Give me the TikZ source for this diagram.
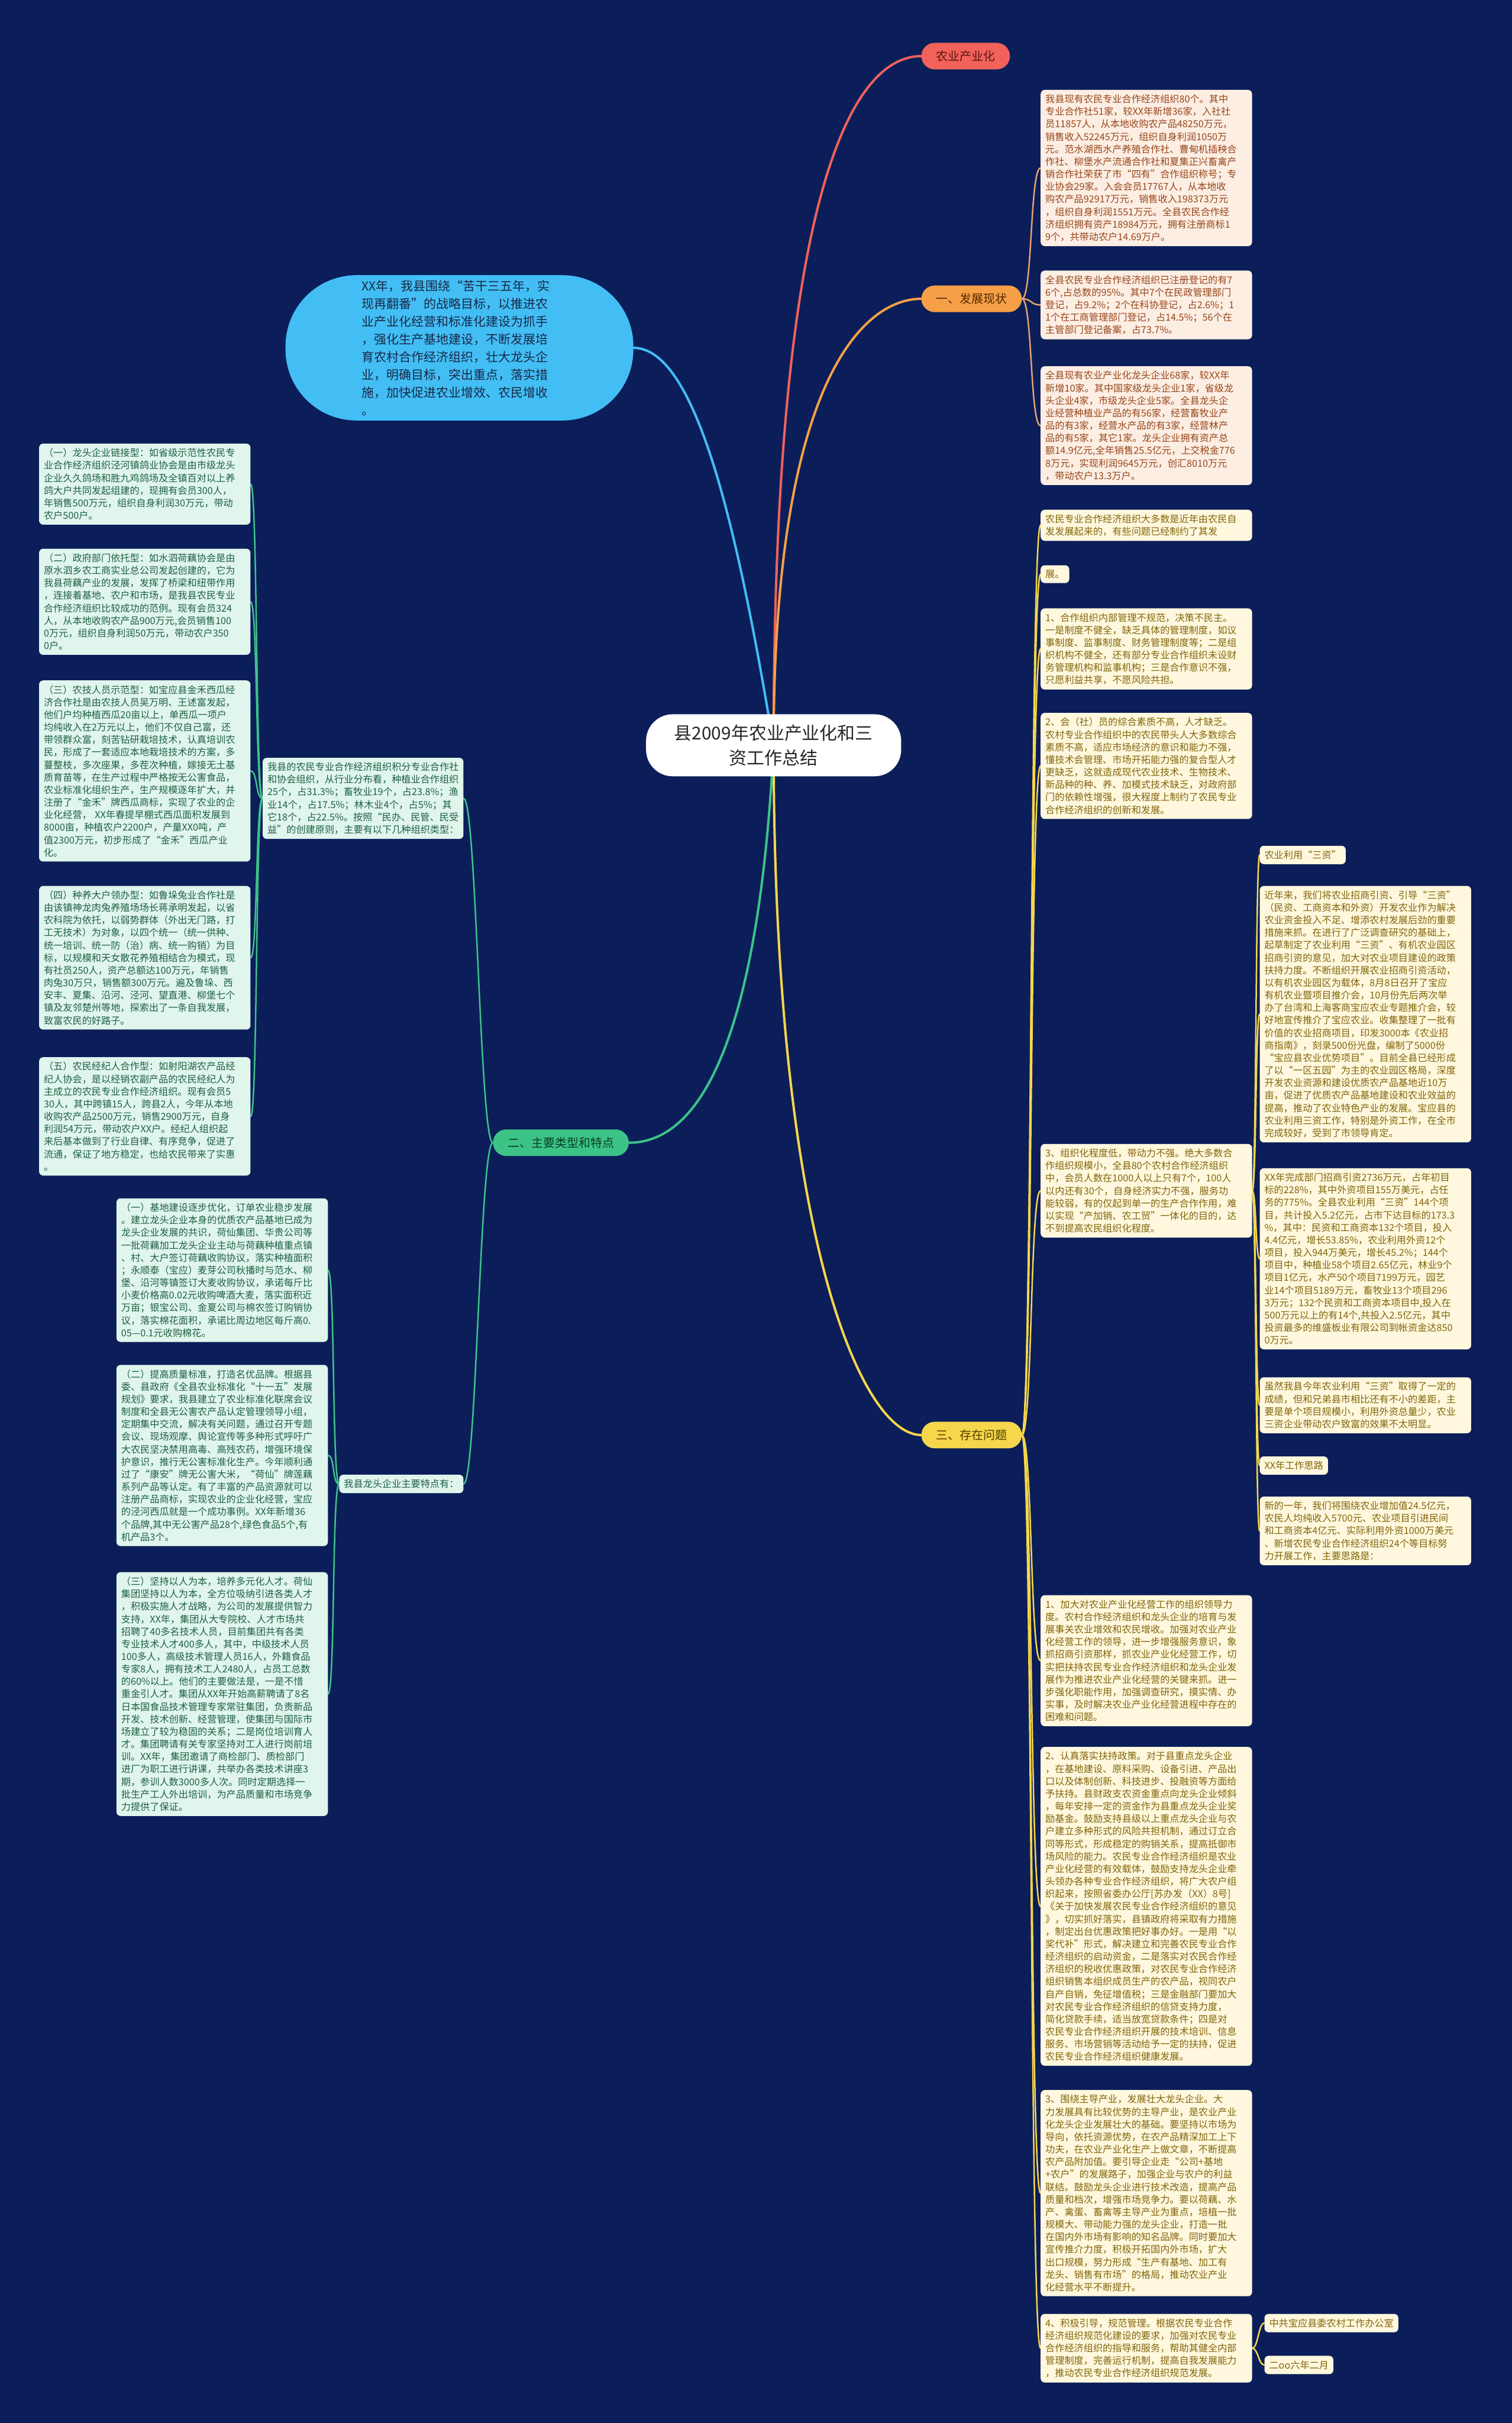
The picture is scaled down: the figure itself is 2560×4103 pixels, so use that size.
\documentclass[tikz,border=0pt]{standalone}
\usepackage{fontspec}
\setmainfont{Noto Sans CJK SC}
\XeTeXlinebreaklocale "zh"
\XeTeXlinebreakskip=0pt plus 1pt
\definecolor{bgc}{RGB}{11,30,90}
\definecolor{peachf}{RGB}{253,238,228}
\definecolor{peacht}{RGB}{150,70,25}
\definecolor{yelf}{RGB}{255,248,222}
\definecolor{yelt}{RGB}{130,100,10}
\definecolor{mintf}{RGB}{224,245,236}
\definecolor{mintt}{RGB}{30,95,70}
\definecolor{redc}{RGB}{240,98,90}
\definecolor{orc}{RGB}{245,160,70}
\definecolor{yelc}{RGB}{246,214,74}
\definecolor{grc}{RGB}{60,196,135}
\definecolor{bluc}{RGB}{66,190,245}
\definecolor{tanc}{RGB}{232,160,112}
\pgfdeclarelayer{edges}
\pgfsetlayers{edges,main}
\begin{document}
\begin{tikzpicture}[x=1pt,y=-1pt,
  box/.style={font=\fontsize{16.2}{21.2}\selectfont, align=left, text width=342, inner xsep=8, inner ysep=8, rounded corners=7, anchor=north west},
  onebox/.style={font=\fontsize{16.2}{21.2}\selectfont, inner xsep=8, inner ysep=8, rounded corners=7, anchor=north west},
  peach/.style={box, fill=peachf, text=peacht},
  yel/.style={box, fill=yelf, text=yelt},
  yelone/.style={onebox, fill=yelf, text=yelt},
  mint/.style={box, fill=mintf, text=mintt},
  mintone/.style={onebox, fill=mintf, text=mintt},
  pill/.style={font=\fontsize{20}{24}\selectfont, minimum height=45, inner xsep=25, rounded corners=22.5, anchor=west},
  mainln/.style={line width=4, line cap=round},
  subln/.style={line width=2.5, line cap=round},
]
\useasboundingbox (0,0) rectangle (2560,4103);
\begin{pgfonlayer}{edges}
\fill[bgc] (0,0) rectangle (2560,4103);
\end{pgfonlayer}

% root
\node[fill=white, text=black!85, rounded corners=45, minimum width=432, minimum height=105, align=center, font=\fontsize{30}{42}\selectfont] (root) at (1310,1262) {县2009年农业产业化和三\\资工作总结};

% branches
\node[pill, fill=redc, text={rgb,255:red,90;green,20;blue,15}] (b1) at (1560,95) {农业产业化};
\node[pill, fill=orc, text={rgb,255:red,80;green,40;blue,0}] (b2) at (1560,506) {一、发展现状};
\node[pill, fill=yelc, text={rgb,255:red,80;green,60;blue,0}] (b3) at (1560,2430) {三、存在问题};
\node[pill, fill=grc, text={rgb,255:red,10;green,60;blue,40}, anchor=east] (b4) at (1065,1935) {二、主要类型和特点};
\node[fill=bluc, text={rgb,255:red,25;green,40;blue,70}, rounded corners=120, minimum width=589, minimum height=246, text width=330, align=left, font=\fontsize{21}{30}\selectfont] (b5) at (778,589) {XX年，我县围绕“苦干三五年，实\\现再翻番”的战略目标，以推进农\\业产业化经营和标准化建设为抓手\\，强化生产基地建设，不断发展培\\育农村合作经济组织，壮大龙头企\\业，明确目标，突出重点，落实措\\施，加快促进农业增效、农民增收\\。};

% 一、发展现状 children
\node[peach] (a1) at (1762,152) {我县现有农民专业合作经济组织80个。其中\\专业合作社51家，较XX年新增36家，入社社\\员11857人，从本地收购农产品48250万元，\\销售收入52245万元，组织自身利润1050万\\元。范水湖西水产养殖合作社、曹甸机插秧合\\作社、柳堡水产流通合作社和夏集正兴畜禽产\\销合作社荣获了市“四有”合作组织称号；专\\业协会29家。入会会员17767人，从本地收\\购农产品92917万元，销售收入198373万元\\，组织自身利润1551万元。全县农民合作经\\济组织拥有资产18984万元，拥有注册商标1\\9个，共带动农户14.69万户。};
\node[peach] (a2) at (1762,458) {全县农民专业合作经济组织已注册登记的有7\\6个,占总数的95\%。其中7个在民政管理部门\\登记，占9.2\%；2个在科协登记，占2.6\%；1\\1个在工商管理部门登记，占14.5\%；56个在\\主管部门登记备案，占73.7\%。};
\node[peach] (a3) at (1762,620) {全县现有农业产业化龙头企业68家，较XX年\\新增10家。其中国家级龙头企业1家，省级龙\\头企业4家，市级龙头企业5家。全县龙头企\\业经营种植业产品的有56家，经营畜牧业产\\品的有3家，经营水产品的有3家，经营林产\\品的有5家，其它1家。龙头企业拥有资产总\\额14.9亿元,全年销售25.5亿元，上交税金776\\8万元，实现利润9645万元，创汇8010万元\\，带动农户13.3万户。};

% 三、存在问题 children
\node[yel] (c1) at (1762,863) {农民专业合作经济组织大多数是近年由农民自\\发发展起来的，有些问题已经制约了其发};
\node[yelone] (c2) at (1762,957) {展。};
\node[yel] (c3) at (1762,1030) {1、合作组织内部管理不规范，决策不民主。\\一是制度不健全，缺乏具体的管理制度，如议\\事制度、监事制度、财务管理制度等；二是组\\织机构不健全，还有部分专业合作组织未设财\\务管理机构和监事机构；三是合作意识不强，\\只愿利益共享，不愿风险共担。};
\node[yel] (c4) at (1762,1207) {2、会（社）员的综合素质不高，人才缺乏。\\农村专业合作组织中的农民带头人大多数综合\\素质不高，适应市场经济的意识和能力不强，\\懂技术会管理、市场开拓能力强的复合型人才\\更缺乏，这就造成现代农业技术、生物技术、\\新品种的种、养、加模式技术缺乏，对政府部\\门的依赖性增强，很大程度上制约了农民专业\\合作经济组织的创新和发展。};
\node[yel] (c5) at (1762,1937) {3、组织化程度低，带动力不强。绝大多数合\\作组织规模小，全县80个农村合作经济组织\\中，会员人数在1000人以上只有7个，100人\\以内还有30个，自身经济实力不强，服务功\\能较弱，有的仅起到单一的生产合作作用，难\\以实现“产加销、农工贸”一体化的目的，达\\不到提高农民组织化程度。};
\node[yel] (c6) at (1762,2701) {1、加大对农业产业化经营工作的组织领导力\\度。农村合作经济组织和龙头企业的培育与发\\展事关农业增效和农民增收。加强对农业产业\\化经营工作的领导，进一步增强服务意识，象\\抓招商引资那样，抓农业产业化经营工作，切\\实把扶持农民专业合作经济组织和龙头企业发\\展作为推进农业产业化经营的关键来抓。进一\\步强化职能作用，加强调查研究，摸实情、办\\实事，及时解决农业产业化经营进程中存在的\\困难和问题。};
\node[yel] (c7) at (1762,2958) {2、认真落实扶持政策。对于县重点龙头企业\\，在基地建设、原料采购、设备引进、产品出\\口以及体制创新、科技进步、投融资等方面给\\予扶持。县财政支农资金重点向龙头企业倾斜\\，每年安排一定的资金作为县重点龙头企业奖\\励基金。鼓励支持县级以上重点龙头企业与农\\户建立多种形式的风险共担机制，通过订立合\\同等形式，形成稳定的购销关系，提高抵御市\\场风险的能力。农民专业合作经济组织是农业\\产业化经营的有效载体，鼓励支持龙头企业牵\\头领办各种专业合作经济组织，将广大农户组\\织起来，按照省委办公厅[苏办发（XX）8号]\\《关于加快发展农民专业合作经济组织的意见\\》，切实抓好落实，县镇政府将采取有力措施\\，制定出台优惠政策把好事办好。一是用“以\\奖代补”形式，解决建立和完善农民专业合作\\经济组织的启动资金，二是落实对农民合作经\\济组织的税收优惠政策，对农民专业合作经济\\组织销售本组织成员生产的农产品，视同农户\\自产自销，免征增值税；三是金融部门要加大\\对农民专业合作经济组织的信贷支持力度，\\简化贷款手续，适当放宽贷款条件；四是对\\农民专业合作经济组织开展的技术培训、信息\\服务、市场营销等活动给予一定的扶持，促进\\农民专业合作经济组织健康发展。};
\node[yel] (c8) at (1762,3539) {3、围绕主导产业，发展壮大龙头企业。大\\力发展具有比较优势的主导产业，是农业产业\\化龙头企业发展壮大的基础。要坚持以市场为\\导向，依托资源优势，在农产品精深加工上下\\功夫，在农业产业化生产上做文章，不断提高\\农产品附加值。要引导企业走“公司+基地\\+农户”的发展路子，加强企业与农户的利益\\联结。鼓励龙头企业进行技术改造，提高产品\\质量和档次，增强市场竞争力。要以荷藕、水\\产、禽蛋、畜禽等主导产业为重点，培植一批\\规模大、带动能力强的龙头企业，打造一批\\在国内外市场有影响的知名品牌。同时要加大\\宣传推介力度，积极开拓国内外市场，扩大\\出口规模，努力形成“生产有基地、加工有\\龙头、销售有市场”的格局，推动农业产业\\化经营水平不断提升。};
\node[yel] (c9) at (1762,3918) {4、积极引导，规范管理。根据农民专业合作\\经济组织规范化建设的要求，加强对农民专业\\合作经济组织的指导和服务，帮助其健全内部\\管理制度，完善运行机制，提高自我发展能力\\，推动农民专业合作经济组织规范发展。};

% right column (children of c5)
\node[yelone] (r1) at (2133,1432) {农业利用“三资”};
\node[yel] (r2) at (2133,1500) {近年来，我们将农业招商引资、引导“三资”\\（民资、工商资本和外资）开发农业作为解决\\农业资金投入不足、增添农村发展后劲的重要\\措施来抓。在进行了广泛调查研究的基础上，\\起草制定了农业利用“三资”、有机农业园区\\招商引资的意见，加大对农业项目建设的政策\\扶持力度。不断组织开展农业招商引资活动，\\以有机农业园区为载体，8月8日召开了宝应\\有机农业暨项目推介会，10月份先后两次举\\办了台湾和上海客商宝应农业专题推介会，较\\好地宣传推介了宝应农业。收集整理了一批有\\价值的农业招商项目，印发3000本《农业招\\商指南》，刻录500份光盘，编制了5000份\\“宝应县农业优势项目”。目前全县已经形成\\了以“一区五园”为主的农业园区格局，深度\\开发农业资源和建设优质农产品基地近10万\\亩，促进了优质农产品基地建设和农业效益的\\提高，推动了农业特色产业的发展。宝应县的\\农业利用三资工作，特别是外资工作，在全市\\完成较好，受到了市领导肯定。};
\node[yel] (r3) at (2133,1978) {XX年完成部门招商引资2736万元，占年初目\\标的228\%，其中外资项目155万美元，占任\\务的775\%。全县农业利用“三资”144个项\\目，共计投入5.2亿元，占市下达目标的173.3\\\%，其中：民资和工商资本132个项目，投入\\4.4亿元，增长53.85\%，农业利用外资12个\\项目，投入944万美元，增长45.2\%；144个\\项目中，种植业58个项目2.65亿元，林业9个\\项目1亿元，水产50个项目7199万元，园艺\\业14个项目5189万元，畜牧业13个项目296\\3万元；132个民资和工商资本项目中,投入在\\500万元以上的有14个,共投入2.5亿元，其中\\投资最多的维盛板业有限公司到帐资金达850\\0万元。};
\node[yel] (r4) at (2133,2332) {虽然我县今年农业利用“三资”取得了一定的\\成绩，但和兄弟县市相比还有不小的差距，主\\要是单个项目规模小，利用外资总量少，农业\\三资企业带动农户致富的效果不太明显。};
\node[yelone] (r5) at (2133,2466) {XX年工作思路};
\node[yel] (r6) at (2133,2534) {新的一年，我们将围绕农业增加值24.5亿元，\\农民人均纯收入5700元、农业项目引进民间\\和工商资本4亿元、实际利用外资1000万美元\\、新增农民专业合作经济组织24个等目标努\\力开展工作，主要思路是：};
\node[yelone] (r7) at (2141,3918) {中共宝应县委农村工作办公室};
\node[yelone] (r8) at (2141,3989) {二oo六年二月};

% 二、主要类型和特点 children
\node[mint, text width=324, anchor=north east] (g1) at (785,1283) {我县的农民专业合作经济组织积分专业合作社和协会组织，从行业分布看，种植业合作组织25个，占31.3\%；畜牧业19个，占23.8\%；渔业14个，占17.5\%；林木业4个，占5\%；其它18个，占22.5\%。按照“民办、民管、民受益”的创建原则，主要有以下几种组织类型：};
\node[mintone, anchor=north east] (g2) at (785,2497) {我县龙头企业主要特点有：};

\node[mint] (l1) at (66,751) {（一）龙头企业链接型：如省级示范性农民专\\业合作经济组织泾河镇鸽业协会是由市级龙头\\企业久久鸽场和胜九鸡鸽场及全镇百对以上养\\鸽大户共同发起组建的，现拥有会员300人，\\年销售500万元，组织自身利润30万元，带动\\农户500户。};
\node[mint] (l2) at (66,929) {（二）政府部门依托型：如水泗荷藕协会是由\\原水泗乡农工商实业总公司发起创建的，它为\\我县荷藕产业的发展，发挥了桥梁和纽带作用\\，连接着基地、农户和市场，是我县农民专业\\合作经济组织比较成功的范例。现有会员324\\人，从本地收购农产品900万元,会员销售100\\0万元，组织自身利润50万元，带动农户350\\0户。};
\node[mint] (l3) at (66,1152) {（三）农技人员示范型：如宝应县金禾西瓜经\\济合作社是由农技人员吴万明、王述富发起，\\他们户均种植西瓜20亩以上，单西瓜一项户\\均纯收入在2万元以上，他们不仅自己富，还\\带领群众富，刻苦钻研栽培技术，认真培训农\\民，形成了一套适应本地栽培技术的方案，多\\蔓整枝，多次座果，多茬次种植，嫁接无土基\\质育苗等，在生产过程中严格按无公害食品，\\农业标准化组织生产，生产规模逐年扩大，并\\注册了“金禾”牌西瓜商标，实现了农业的企\\业化经营，\ XX年春提早棚式西瓜面积发展到\\8000亩，种植农户2200户，产量XX0吨，产\\值2300万元，初步形成了“金禾”西瓜产业\\化。};
\node[mint] (l4) at (66,1500) {（四）种养大户领办型：如鲁垛兔业合作社是\\由该镇神龙肉兔养殖场场长蒋承明发起，以省\\农科院为依托，以弱势群体（外出无门路，打\\工无技术）为对象，以四个统一（统一供种、\\统一培训、统一防（治）病、统一购销）为目\\标，以规模和天女散花养殖相结合为模式，现\\有社员250人，资产总额达100万元，年销售\\肉兔30万只，销售额300万元。遍及鲁垛、西\\安丰、夏集、沿河、泾河、望直港、柳堡七个\\镇及友邻楚州等地，探索出了一条自我发展，\\致富农民的好路子。};
\node[mint] (l5) at (66,1790) {（五）农民经纪人合作型：如射阳湖农产品经\\纪人协会，是以经销农副产品的农民经纪人为\\主成立的农民专业合作经济组织。现有会员5\\30人，其中跨镇15人，跨县2人，今年从本地\\收购农产品2500万元，销售2900万元，自身\\利润54万元，带动农户XX户。经纪人组织起\\来后基本做到了行业自律、有序竞争，促进了\\流通，保证了地方稳定，也给农民带来了实惠\\。};

\node[mint] (m1) at (197,2029) {（一）基地建设逐步优化，订单农业稳步发展\\。建立龙头企业本身的优质农产品基地已成为\\龙头企业发展的共识，荷仙集团、华贵公司等\\一批荷藕加工龙头企业主动与荷藕种植重点镇\\、村、大户签订荷藕收购协议，落实种植面积\\；永顺泰（宝应）麦芽公司秋播时与范水、柳\\堡、沿河等镇签订大麦收购协议，承诺每斤比\\小麦价格高0.02元收购啤酒大麦，落实面积近\\万亩；银宝公司、金夏公司与棉农签订购销协\\议，落实棉花面积，承诺比周边地区每斤高0.\\05—0.1元收购棉花。};
\node[mint] (m2) at (197,2311) {（二）提高质量标准，打造名优品牌。根据县\\委、县政府《全县农业标准化“十一五”发展\\规划》要求，我县建立了农业标准化联席会议\\制度和全县无公害农产品认定管理领导小组，\\定期集中交流，解决有关问题，通过召开专题\\会议、现场观摩、舆论宣传等多种形式呼吁广\\大农民坚决禁用高毒、高残农药，增强环境保\\护意识，推行无公害标准化生产。今年顺利通\\过了“康安”牌无公害大米，“荷仙”牌莲藕\\系列产品等认定。有了丰富的产品资源就可以\\注册产品商标，实现农业的企业化经营，宝应\\的泾河西瓜就是一个成功事例。XX年新增36\\个品牌,其中无公害产品28个,绿色食品5个,有\\机产品3个。};
\node[mint] (m3) at (197,2662) {（三）坚持以人为本，培养多元化人才。荷仙\\集团坚持以人为本，全方位吸纳引进各类人才\\，积极实施人才战略，为公司的发展提供智力\\支持，XX年，集团从大专院校、人才市场共\\招聘了40多名技术人员，目前集团共有各类\\专业技术人才400多人，其中，中级技术人员\\100多人，高级技术管理人员16人，外籍食品\\专家8人，拥有技术工人2480人，占员工总数\\的60\%以上。他们的主要做法是，一是不惜\\重金引人才。集团从XX年开始高薪聘请了8名\\日本国食品技术管理专家常驻集团，负责新品\\开发、技术创新、经营管理，使集团与国际市\\场建立了较为稳固的关系；二是岗位培训育人\\才。集团聘请有关专家坚持对工人进行岗前培\\训。XX年，集团邀请了商检部门、质检部门\\进厂为职工进行讲课，共举办各类技术讲座3\\期，参训人数3000多人次。同时定期选择一\\批生产工人外出培训，为产品质量和市场竞争\\力提供了保证。};

\begin{pgfonlayer}{edges}
% main branches
\draw[mainln, redc] (root.center) .. controls (1310,300) and (1450,95) .. (b1.west);
\draw[mainln, orc] (root.center) .. controls (1310,650) and (1460,506) .. (b2.west);
\draw[mainln, yelc] (root.center) .. controls (1310,2100) and (1460,2430) .. (b3.west);
\draw[mainln, grc] (root.center) .. controls (1280,1850) and (1150,1935) .. (b4.east);
\draw[mainln, bluc] (root.center) .. controls (1250,900) and (1180,589) .. (b5.east);
% 发展现状
\foreach \n in {a1,a2,a3}
  \draw[subln, tanc] (b2.east) .. controls +(18,0) and +(-18,0) .. (\n.west);
% 存在问题
\foreach \n in {c1,c2,c3,c4,c5,c6,c7,c8,c9}
  \draw[subln, yelc] (b3.east) .. controls +(18,0) and +(-18,0) .. (\n.west);
\foreach \n in {r1,r2,r3,r4,r5,r6}
  \draw[subln, yelc] (c5.east) .. controls +(7,0) and +(-7,0) .. (\n.west);
\foreach \n in {r7,r8}
  \draw[subln, yelc] (c9.east) .. controls +(10,0) and +(-10,0) .. (\n.west);
% 主要类型
\foreach \n in {g1,g2}
  \draw[subln, grc] (b4.west) .. controls +(-22,0) and +(22,0) .. (\n.east);
\foreach \n in {l1,l2,l3,l4,l5}
  \draw[subln, grc] (g1.west) .. controls +(-12,0) and +(12,0) .. (\n.east);
\foreach \n in {m1,m2,m3}
  \draw[subln, grc] (g2.west) .. controls +(-12,0) and +(12,0) .. (\n.east);
\end{pgfonlayer}
\end{tikzpicture}
\end{document}
